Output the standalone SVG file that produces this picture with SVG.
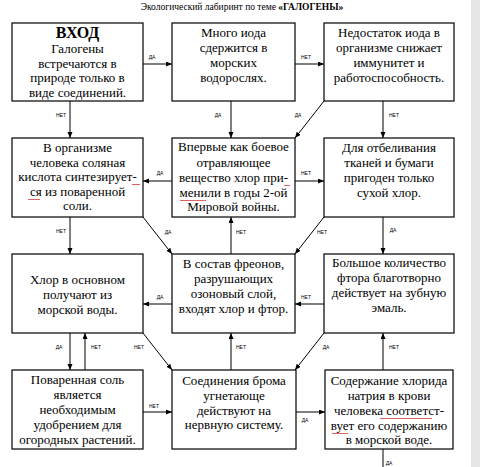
<svg xmlns="http://www.w3.org/2000/svg" width="480" height="467" viewBox="0 0 480 467">
<defs>
<marker id="ah" markerUnits="userSpaceOnUse" markerWidth="7" markerHeight="6" refX="6" refY="2.5" orient="auto">
<path d="M0,0 L6,2.5 L0,5 z" fill="#000"/>
</marker>
<style>
.box{fill:#fff;stroke:#000;stroke-width:1.2}
.t{font-family:'Liberation Serif','DejaVu Serif',serif;font-size:13px;fill:#000;text-anchor:middle}
.b{font-weight:bold;font-size:16px}
.c{stroke:#000;stroke-width:1;fill:none;marker-end:url(#ah)}
.lb{font-family:'Liberation Sans',sans-serif;font-size:5px;fill:#000;text-anchor:middle}
.sq{stroke:#d42020;stroke-width:0.7;fill:none}
</style>
</defs>
<rect width="480" height="467" fill="#fff"/>
<rect x="471" y="0" width="9" height="467" fill="#e6e6e6"/>
<text x="242" y="10" font-family="'Liberation Serif', serif" font-size="9.5" text-anchor="middle">Экологический лабиринт по теме <tspan font-weight="bold">«ГАЛОГЕНЫ»</tspan></text>

<g id="connectors">
<line class="c" x1="143" y1="64" x2="172" y2="64"/>
<line class="c" x1="295" y1="64" x2="324" y2="64"/>
<line class="c" x1="70" y1="101" x2="70" y2="138"/>
<line class="c" x1="231" y1="101" x2="231" y2="138"/>
<line class="c" x1="324" y1="101" x2="295" y2="138"/>
<line class="c" x1="383" y1="101" x2="383" y2="138"/>
<line class="c" x1="172" y1="181" x2="143" y2="181"/>
<line class="c" x1="295" y1="181" x2="324" y2="181"/>
<line class="c" x1="70" y1="217" x2="70" y2="254"/>
<line class="c" x1="143" y1="217" x2="172" y2="254"/>
<line class="c" x1="231" y1="254" x2="231" y2="217"/>
<line class="c" x1="324" y1="217" x2="295" y2="254"/>
<line class="c" x1="383" y1="217" x2="383" y2="254"/>
<line class="c" x1="172" y1="304" x2="143" y2="304"/>
<line class="c" x1="324" y1="304" x2="295" y2="304"/>
<line class="c" x1="70" y1="333" x2="70" y2="370"/>
<line class="c" x1="85" y1="370" x2="85" y2="333"/>
<line class="c" x1="143" y1="333" x2="172" y2="370"/>
<line class="c" x1="231" y1="370" x2="231" y2="333"/>
<line class="c" x1="324" y1="333" x2="295" y2="370"/>
<line class="c" x1="383" y1="370" x2="383" y2="333"/>
<line class="c" x1="143" y1="412" x2="172" y2="412"/>
<line class="c" x1="296" y1="412" x2="325" y2="412"/>
<line x1="383" y1="449" x2="383" y2="467" stroke="#000" stroke-width="1"/>
<text class="lb" x="152" y="59">ДА</text>
<text class="lb" x="306" y="59">НЕТ</text>
<text class="lb" x="61" y="117">НЕТ</text>
<text class="lb" x="218" y="117">ДА</text>
<text class="lb" x="298" y="117">ДА</text>
<text class="lb" x="394" y="117">НЕТ</text>
<text class="lb" x="160" y="175">ДА</text>
<text class="lb" x="306" y="175">НЕТ</text>
<text class="lb" x="61" y="233">НЕТ</text>
<text class="lb" x="168" y="234">ДА</text>
<text class="lb" x="241" y="234">НЕТ</text>
<text class="lb" x="322" y="234">НЕТ</text>
<text class="lb" x="393" y="232">ДА</text>
<text class="lb" x="160" y="299">ДА</text>
<text class="lb" x="306" y="299">НЕТ</text>
<text class="lb" x="59" y="349">ДА</text>
<text class="lb" x="96" y="349">НЕТ</text>
<text class="lb" x="139" y="349">НЕТ</text>
<text class="lb" x="241" y="349">НЕТ</text>
<text class="lb" x="326" y="349">ДА</text>
<text class="lb" x="394" y="349">НЕТ</text>
<text class="lb" x="154" y="408">НЕТ</text>
<text class="lb" x="305" y="422">ДА</text>
<text class="lb" x="389" y="465">ДА</text>
</g>

<g id="n1">
<rect class="box" x="12" y="23" width="131" height="78"/>
<text class="t b" x="77.5" y="38">ВХОД</text>
<text class="t" x="77.5" y="53">Галогены</text>
<text class="t" x="77.5" y="68">встречаются в</text>
<text class="t" x="77.5" y="82">природе только в</text>
<text class="t" x="77.5" y="97">виде соединений.</text>
</g>
<g id="n2">
<rect class="box" x="172" y="23" width="123" height="78"/>
<text class="t" x="233.5" y="37">Много иода</text>
<text class="t" x="233.5" y="52">сдержится в</text>
<text class="t" x="233.5" y="67">морских</text>
<text class="t" x="233.5" y="82">водорослях.</text>
</g>
<g id="n3">
<rect class="box" x="324" y="23" width="130" height="78"/>
<text class="t" x="389" y="37">Недостаток иода в</text>
<text class="t" x="389" y="52">организме снижает</text>
<text class="t" x="389" y="67">иммунитет и</text>
<text class="t" x="389" y="82">работоспособность.</text>
</g>
<g id="n4">
<rect class="box" x="12" y="138" width="131" height="79"/>
<text class="t" x="77.5" y="152">В организме</text>
<text class="t" x="77.5" y="167">человека соляная</text>
<text class="t" x="77.5" y="181">кислота синтезирует-</text>
<text class="t" x="77.5" y="196">ся из поваренной</text>
<text class="t" x="77.5" y="210">соли.</text>
<path class="sq" d="M132,184 l1,1 l1,-1 l1,1 l1,-1 l1,1 l1,-1 l1,1 l1,-1"/>
<path class="sq" d="M28,199 l1,1 l1,-1 l1,1 l1,-1 l1,1 l1,-1 l1,1 l1,-1 l1,1 l1,-1 l1,1 l1,-1"/>
</g>
<g id="n5">
<rect class="box" x="172" y="138" width="123" height="79"/>
<text class="t" x="233.5" y="151">Впервые как боевое</text>
<text class="t" x="233.5" y="167">отравляющее</text>
<text class="t" x="233.5" y="182">вещество хлор при-</text>
<text class="t" x="233.5" y="197">менили в годы 2-ой</text>
<text class="t" x="233.5" y="211">Мировой войны.</text>
<path class="sq" d="M284,185 l1,1 l1,-1 l1,1 l1,-1 l1,1 l1,-1"/>
<path class="sq" d="M180,200 l1,1 l1,-1 l1,1 l1,-1 l1,1 l1,-1 l1,1 l1,-1 l1,1 l1,-1 l1,1 l1,-1 l1,1 l1,-1 l1,1 l1,-1 l1,1 l1,-1 l1,1 l1,-1 l1,1 l1,-1 l1,1 l1,-1 l1,1 l1,-1"/>
</g>
<g id="n6">
<rect class="box" x="324" y="138" width="130" height="79"/>
<text class="t" x="389" y="152">Для отбеливания</text>
<text class="t" x="389" y="167">тканей и бумаги</text>
<text class="t" x="389" y="182">пригоден только</text>
<text class="t" x="389" y="197">сухой хлор.</text>
</g>
<g id="n7">
<rect class="box" x="12" y="254" width="131" height="79"/>
<text class="t" x="77.5" y="284">Хлор в основном</text>
<text class="t" x="77.5" y="299">получают из</text>
<text class="t" x="77.5" y="314">морской воды.</text>
</g>
<g id="n8">
<rect class="box" x="172" y="254" width="123" height="79"/>
<text class="t" x="233.5" y="268">В состав фреонов,</text>
<text class="t" x="233.5" y="283">разрушающих</text>
<text class="t" x="233.5" y="298">озоновый слой,</text>
<text class="t" x="233.5" y="313">входят хлор и фтор.</text>
</g>
<g id="n9">
<rect class="box" x="324" y="254" width="130" height="79"/>
<text class="t" x="389" y="267">Большое количество</text>
<text class="t" x="389" y="282">фтора благотворно</text>
<text class="t" x="389" y="297">действует на зубную</text>
<text class="t" x="389" y="312">эмаль.</text>
</g>
<g id="n10">
<rect class="box" x="12" y="370" width="131" height="79"/>
<text class="t" x="77.5" y="384">Поваренная соль</text>
<text class="t" x="77.5" y="399">является</text>
<text class="t" x="77.5" y="414">необходимым</text>
<text class="t" x="77.5" y="429">удобрением для</text>
<text class="t" x="77.5" y="444">огородных растений.</text>
</g>
<g id="n11">
<rect class="box" x="172" y="370" width="124" height="79"/>
<text class="t" x="234" y="385">Соединения брома</text>
<text class="t" x="234" y="400">угнетающе</text>
<text class="t" x="234" y="415">действуют на</text>
<text class="t" x="234" y="429">нервную систему.</text>
</g>
<g id="n12">
<rect class="box" x="325" y="370" width="128" height="79"/>
<text class="t" x="389" y="385">Содержание хлорида</text>
<text class="t" x="389" y="400">натрия в крови</text>
<text class="t" x="389" y="415">человека соответст-</text>
<text class="t" x="389" y="430">вует его содержанию</text>
<text class="t" x="389" y="444">в морской воде.</text>
<path class="sq" d="M380,418 l1,1 l1,-1 l1,1 l1,-1 l1,1 l1,-1 l1,1 l1,-1 l1,1 l1,-1 l1,1 l1,-1 l1,1 l1,-1 l1,1 l1,-1 l1,1 l1,-1 l1,1 l1,-1 l1,1 l1,-1 l1,1 l1,-1 l1,1 l1,-1 l1,1 l1,-1 l1,1 l1,-1 l1,1 l1,-1 l1,1 l1,-1 l1,1 l1,-1 l1,1 l1,-1 l1,1 l1,-1 l1,1 l1,-1 l1,1 l1,-1 l1,1 l1,-1 l1,1 l1,-1 l1,1 l1,-1 l1,1 l1,-1"/>
<path class="sq" d="M332,433 l1,1 l1,-1 l1,1 l1,-1 l1,1 l1,-1 l1,1 l1,-1 l1,1 l1,-1 l1,1 l1,-1 l1,1 l1,-1 l1,1 l1,-1"/>
</g>
</svg>
